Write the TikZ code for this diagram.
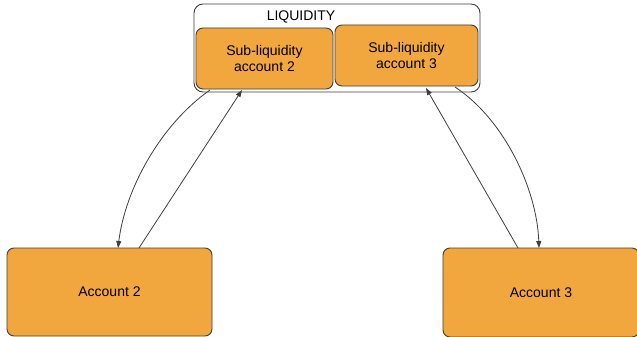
\documentclass[tikz,border=0pt]{standalone}
\usepackage{fontspec}
\setmainfont{Liberation Sans}
\usetikzlibrary{arrows.meta}
\definecolor{acc}{HTML}{F1A73D}
\definecolor{edge}{HTML}{3E3E3E}
\tikzset{
  box/.style={draw=edge, line width=0.9pt, fill=acc, rounded corners=7pt, inner sep=0pt, align=center, font=\fontsize{14}{16}\selectfont},
  link/.style={draw=edge, line width=0.8pt, -{Triangle[length=7pt,width=5pt]}}
}
\begin{document}
\begin{tikzpicture}[x=1pt,y=-1pt]
\useasboundingbox (0,0) rectangle (637,337);
\node[draw=edge, line width=0.9pt, rounded corners=9pt, minimum width=286pt, minimum height=88pt, inner sep=0pt] (liq) at (337,48) {};
\node[font=\fontsize{14}{16}\selectfont] (liqlab) at (301,17) {LIQUIDITY};
\node[box, minimum width=137pt, minimum height=61pt] (s2) at (264.5,58.5) {Sub-liquidity\\account 2};
\node[box, minimum width=143pt, minimum height=61pt] (s3) at (406.5,55.5) {Sub-liquidity\\account 3};
\node[box, minimum width=205pt, minimum height=88pt] (a2) at (109.5,292) {Account 2};
\node[box, minimum width=196pt, minimum height=89pt] (a3) at (541,292.5) {Account 3};
\coordinate (c1s) at (210,90);
\coordinate (c1e) at (118,248);
\draw[link] (c1s) .. controls (160,125) and (125,190) .. (c1e);
\coordinate (l1s) at (139,248);
\coordinate (l1e) at (242,90);
\draw[link] (l1s) -- (l1e);
\coordinate (l2s) at (518,248);
\coordinate (l2e) at (426,88);
\draw[link] (l2s) -- (l2e);
\coordinate (c2s) at (455,87);
\coordinate (c2e) at (539,248);
\draw[link] (c2s) .. controls (505,120) and (537,190) .. (c2e);
\end{tikzpicture}
\end{document}
